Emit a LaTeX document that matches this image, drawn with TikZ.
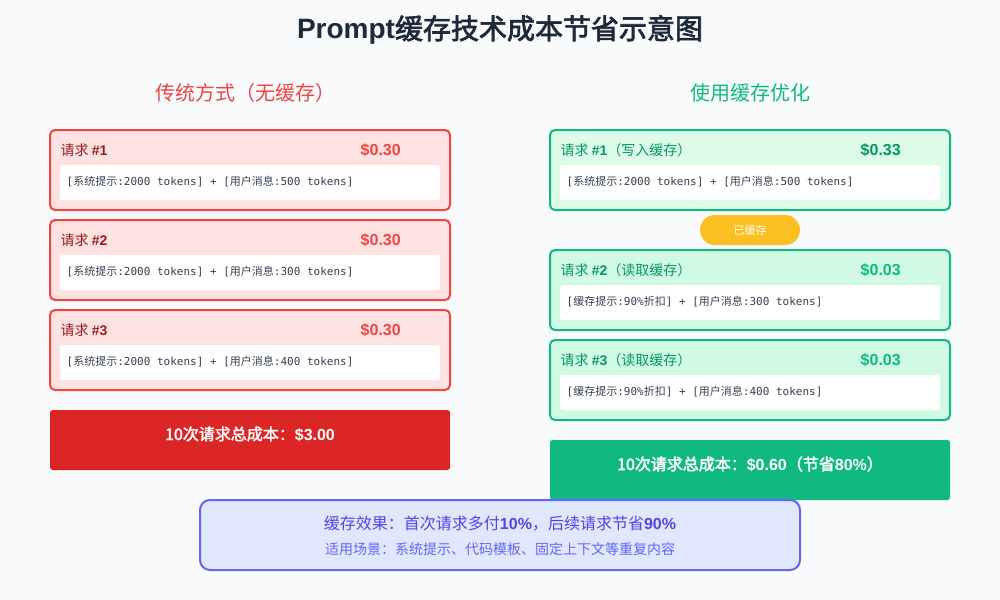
\documentclass[tikz,border=0pt]{standalone}
\usepackage{fontspec}
\setmainfont{Noto Sans CJK SC}
\newfontfamily\cjkb[FakeBold=2.5]{Noto Sans CJK SC}
\newfontfamily\lat{Liberation Sans}
\newfontfamily\mono{DejaVu Sans Mono}
\newcommand{\cj}[1]{{\rmfamily #1}}
\newcommand{\mn}[1]{{\mono #1}}
\definecolor{bg}{HTML}{F8FAFC}
\definecolor{ttl}{HTML}{1E293B}
\definecolor{rd}{HTML}{EF4444}
\definecolor{rdd}{HTML}{991B1B}
\definecolor{rdf}{HTML}{FEE2E2}
\definecolor{rdt}{HTML}{DC2626}
\definecolor{gn}{HTML}{10B981}
\definecolor{gnd}{HTML}{059669}
\definecolor{gnf1}{HTML}{DCFCE7}
\definecolor{gnf}{HTML}{D1FAE5}
\definecolor{yl}{HTML}{FBBF24}
\definecolor{ind}{HTML}{4F46E5}
\definecolor{ind2}{HTML}{6366F1}
\definecolor{indf}{HTML}{E0E7FF}
\definecolor{txt}{HTML}{374151}
\begin{document}
\begin{tikzpicture}[x=0.75pt,y=-0.75pt,
  redbox/.style={draw=rd,line width=1.5pt,fill=rdf,rounded corners=3.75pt},
  grnbox/.style={draw=gn,line width=1.5pt,fill=gnf,rounded corners=3.75pt},
  inner/.style={fill=white,rounded corners=2pt},
  mtext/.style={anchor=west,font=\fontsize{8.25pt}{10pt}\selectfont,text=txt},
  lbl/.style={anchor=west,font=\fontsize{10.5pt}{12pt}\selectfont},
  price/.style={anchor=west,font=\fontsize{12pt}{14pt}\lat\bfseries},
  tot/.style={font=\fontsize{12pt}{14pt}\selectfont,text=white}]
\fill[bg] (0,0) rectangle (1000,600);
\useasboundingbox (0,0) rectangle (1000,600);
\node (title) at (500,30) {\fontsize{21pt}{24pt}\selectfont\color{ttl}{\lat\bfseries Prompt}{\cjkb 缓存技术成本节省示意图}};
\node[text=rd,font=\fontsize{15pt}{18pt}\selectfont] (lh) at (245,93) {传统方式（无缓存）};
\node[text=gn,font=\fontsize{15pt}{18pt}\selectfont] (rh) at (750,93) {使用缓存优化};
% left
\foreach \i/\y/\n in {1/130/500,2/220/300,3/310/400}{
  \draw[redbox] (50,\y) rectangle (450,\y+80);
  \fill[inner] (60,\y+35) rectangle (440,\y+70);
  \node[lbl,text=rdd] (l\i) at (56,\y+20) {请求 {\lat\bfseries \#\i}};
  \node[price,text=rd] (lp\i) at (356,\y+20) {\$0.30};
  \node[mtext] (lm\i) at (62,\y+52) {\mn{[}系统提示\mn{:2000 tokens] + [}用户消息\mn{:\n\ tokens]}};
}
\fill[rdt,rounded corners=2pt] (50,410) rectangle (450,470);
\node[tot] (lt) at (250,434) {{\cjkb 10次请求总成本：}{\lat\bfseries \$3.00}};
% right
\draw[grnbox,fill=gnf1] (550,130) rectangle (950,210);
\fill[inner] (560,165) rectangle (940,200);
\node[lbl,text=gnd] (r1) at (556,150) {请求 {\lat\bfseries \#1}（写入缓存）};
\node[price,text=gnd] (rp1) at (856,150) {\$0.33};
\node[mtext] (rm1) at (562,182) {\mn{[}系统提示\mn{:2000 tokens] + [}用户消息\mn{:500 tokens]}};
\fill[yl,rounded corners=11.25pt] (700,215) rectangle (800,245);
\node[text=white,font=\fontsize{8.25pt}{10pt}\selectfont] (pill) at (750,230) {已缓存};
\foreach \i/\y/\n in {2/250/300,3/340/400}{
  \draw[grnbox] (550,\y) rectangle (950,\y+80);
  \fill[inner] (560,\y+35) rectangle (940,\y+70);
  \node[lbl,text=gnd] (r\i) at (556,\y+20) {请求 {\lat\bfseries \#\i}（读取缓存）};
  \node[price,text=gn] (rp\i) at (856,\y+20) {\$0.03};
  \node[mtext] (rm\i) at (562,\y+52) {\mn{[}缓存提示\mn{:90\%}折扣\mn{] + [}用户消息\mn{:\n\ tokens]}};
}
\fill[gn,rounded corners=2pt] (550,440) rectangle (950,500);
\node[tot] (rt) at (750,464) {{\cjkb 10次请求总成本：}{\lat\bfseries \$0.60}{\cjkb （节省}{\lat\bfseries 80\%}{\cjkb ）}};
% bottom
\draw[draw=ind2,line width=1.5pt,fill=indf,rounded corners=7.5pt] (200,500) rectangle (800,570);
\node[text=ind,font=\fontsize{12pt}{14pt}\selectfont] (b1) at (500,524) {缓存效果：首次请求多付{\lat\bfseries 10\%}，后续请求节省{\lat\bfseries 90\%}};
\node[text=ind2,font=\fontsize{10.5pt}{12pt}\selectfont] (b2) at (500,549) {适用场景：系统提示、代码模板、固定上下文等重复内容};
\end{tikzpicture}
\end{document}
